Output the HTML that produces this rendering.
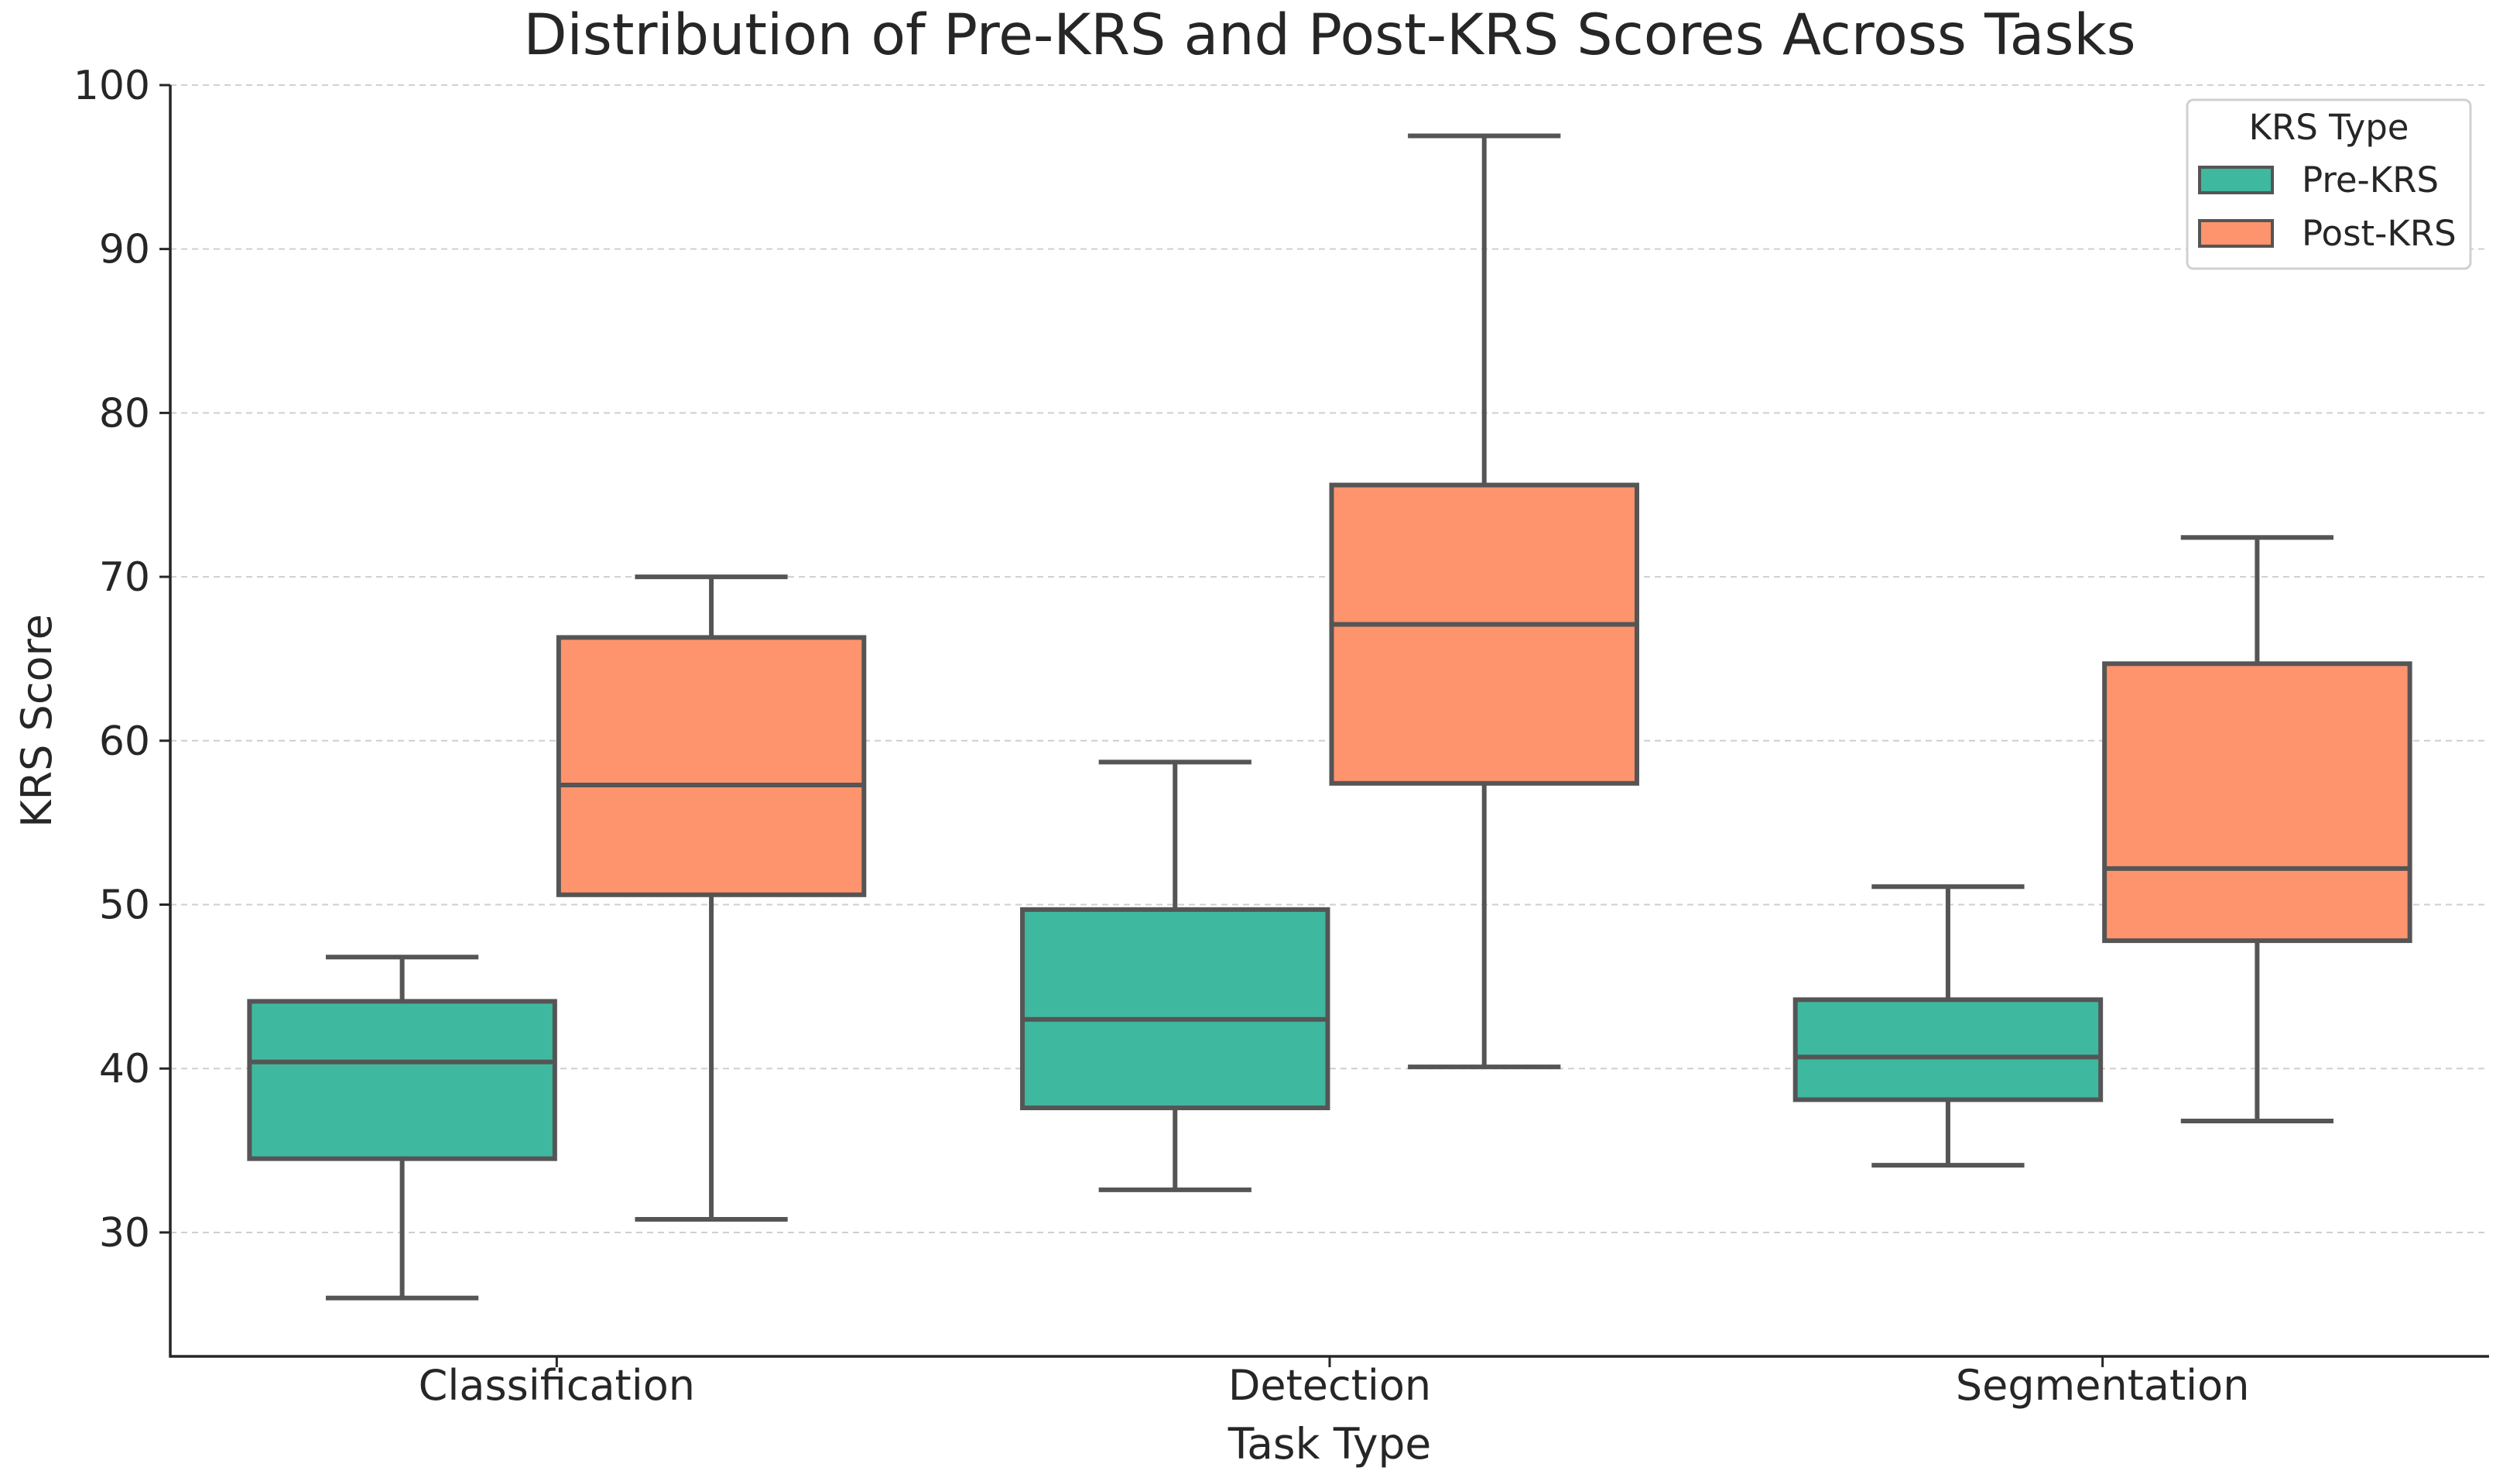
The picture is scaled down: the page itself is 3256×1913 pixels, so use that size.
<!DOCTYPE html>
<html><head><meta charset="utf-8"><style>
html,body{margin:0;padding:0;background:#fff}
svg{display:block;font-family:"DejaVu Sans","Liberation Sans",sans-serif}
</style></head><body>
<svg id="chart" width="3256" height="1913" viewBox="0 0 3256 1913">
<text x="1718" y="70" font-size="73" text-anchor="middle" fill="#262626">Distribution of Pre-KRS and Post-KRS Scores Across Tasks</text>
<g id="grid"></g>
<g id="boxes"></g>
<g id="axes"></g>
<text x="1718" y="1884" font-size="55" text-anchor="middle" fill="#262626">Task Type</text>
<text transform="translate(66,931) rotate(-90)" font-size="54" text-anchor="middle" fill="#262626">KRS Score</text>
<g>
<rect x="2826" y="129" width="366" height="218" rx="8" fill="#fff" stroke="#d0d0d0" stroke-width="3"/>
<text x="3009" y="180" font-size="45" text-anchor="middle" fill="#262626">KRS Type</text>
<rect x="2842" y="216" width="94" height="33" fill="#3fb8a0" stroke="#555" stroke-width="4"/>
<text x="2974" y="248" font-size="45" fill="#262626">Pre-KRS</text>
<rect x="2842" y="285" width="94" height="33" fill="#fe946d" stroke="#555" stroke-width="4"/>
<text x="2974" y="317" font-size="45" fill="#262626">Post-KRS</text>
</g>
</svg>
<script>
const categories = ["Classification","Detection","Segmentation"];
const preMin = [26.0, 32.6, 34.1];
const preQ1 = [34.5, 37.6, 38.1];
const preMed = [40.4, 43.0, 40.7];
const preQ3 = [44.1, 49.7, 44.2];
const preMax = [46.8, 58.7, 51.1];
const postMin = [30.8, 40.1, 36.8];
const postQ1 = [50.6, 57.4, 47.8];
const postMed = [57.3, 67.1, 52.2];
const postQ3 = [66.3, 75.6, 64.7];
const postMax = [70.0, 96.9, 72.4];
const yTicks = [30,40,50,60,70,80,90,100];

const L=220,R=3216,T=104,B=1752,Y0=22.44,Y1=100.28;
const xs=i=>L+(i+0.5)*(R-L)/categories.length;
const ys=v=>B-(v-Y0)/(Y1-Y0)*(B-T);
const NS="http://www.w3.org/2000/svg";
function mk(parent,tag,attrs){const e=document.createElementNS(NS,tag);for(const k in attrs)e.setAttribute(k,attrs[k]);parent.appendChild(e);return e;}
const grid=document.getElementById('grid'),axes=document.getElementById('axes'),boxes=document.getElementById('boxes');
const step=(R-L)/categories.length;
yTicks.forEach(t=>{
  const g=mk(grid,'line',{x1:L,x2:R,y1:ys(t),y2:ys(t),stroke:'#cfcfcf','stroke-width':2,'stroke-dasharray':'8,6'});
  
  
  const tk=mk(axes,'line',{x1:L-14,x2:L,y1:ys(t),y2:ys(t),stroke:'#262626','stroke-width':3});
  
  
  const lb=mk(axes,'text',{x:L-26,y:ys(t)+18,'font-size':52,'text-anchor':'end',fill:'#262626'});
  lb.textContent=t;
  
  
});
const sp=mk(axes,'path',{d:`M${L},${ys(100)} L${L},${B} L${R},${B}`,fill:'none',stroke:'#262626','stroke-width':3.5});


function box(cx,min,q1,med,q3,max,fill,name){
  const w=step*0.395,g=mk(boxes,'g',{});
  
  
  const st={stroke:'#555','stroke-width':6};
  mk(g,'line',Object.assign({x1:cx,x2:cx,y1:ys(max),y2:ys(q3)},st));
  mk(g,'line',Object.assign({x1:cx,x2:cx,y1:ys(q1),y2:ys(min)},st));
  mk(g,'line',Object.assign({x1:cx-w/4,x2:cx+w/4,y1:ys(max),y2:ys(max)},st));
  mk(g,'line',Object.assign({x1:cx-w/4,x2:cx+w/4,y1:ys(min),y2:ys(min)},st));
  mk(g,'rect',Object.assign({x:cx-w/2,y:ys(q3),width:w,height:ys(q1)-ys(q3),fill:fill},st));
  mk(g,'line',Object.assign({x1:cx-w/2,x2:cx+w/2,y1:ys(med),y2:ys(med)},st));
}
categories.forEach((c,i)=>{
  const cx=xs(i);
  box(cx-step*0.2,preMin[i],preQ1[i],preMed[i],preQ3[i],preMax[i],'#3fb8a0','box-pre-'+c.toLowerCase());
  box(cx+step*0.2,postMin[i],postQ1[i],postMed[i],postQ3[i],postMax[i],'#fe946d','box-post-'+c.toLowerCase());
  const tk=mk(axes,'line',{x1:cx,x2:cx,y1:B,y2:B+14,stroke:'#262626','stroke-width':3});
  
  
  const lb=mk(axes,'text',{x:cx,y:B+56,'font-size':54,'text-anchor':'middle',fill:'#262626'});
  lb.textContent=c;
  
  
});
</script>
</body></html>
